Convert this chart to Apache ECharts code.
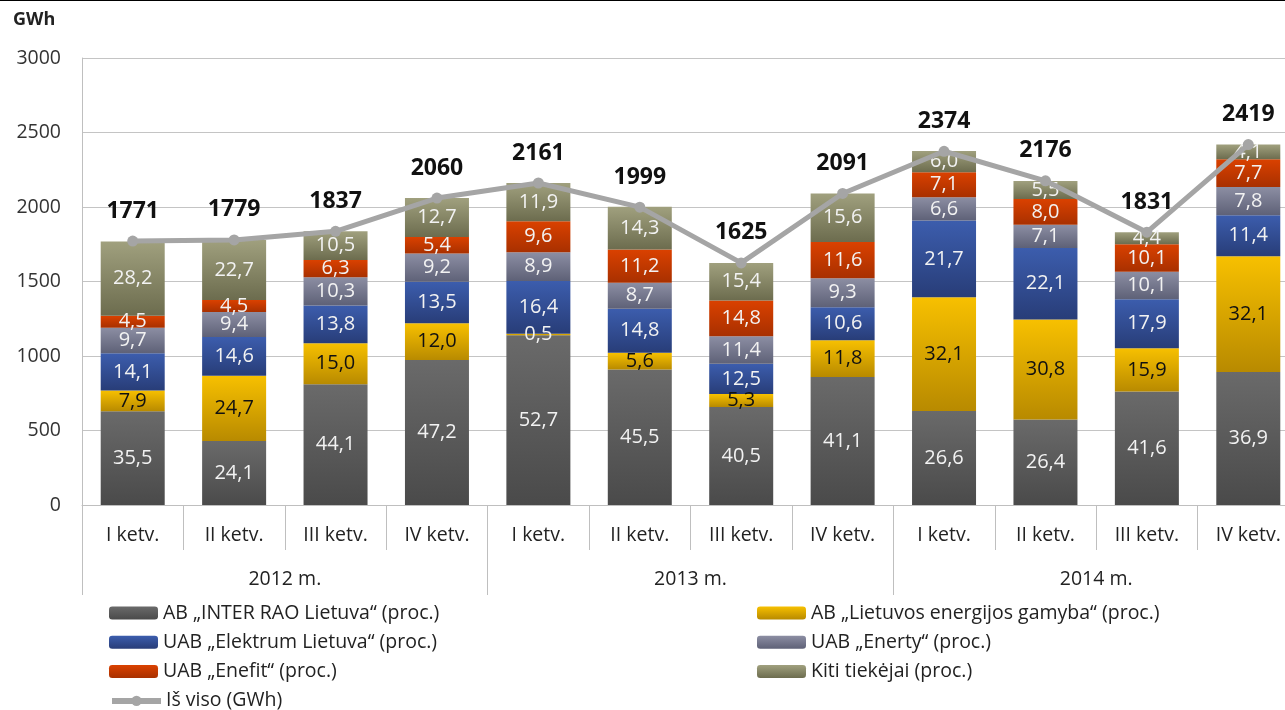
<!DOCTYPE html>
<html>
<head>
  <meta charset="utf-8">
  <title>Elektros tiekimas</title>
  <style>
    html, body { margin: 0; padding: 0; background: #fff; }
    #main { width: 1285px; height: 710px; }
  </style>
</head>
<body>
  <div id="main"></div>
  <script src="https://cdn.jsdelivr.net/npm/echarts@6/dist/echarts.min.js"></script>
  <script>
    // ketvirčiai ir metai
    const quarters = ['I ketv.', 'II ketv.', 'III ketv.', 'IV ketv.', 'I ketv.', 'II ketv.', 'III ketv.', 'IV ketv.', 'I ketv.', 'II ketv.', 'III ketv.', 'IV ketv.'];
    const years = ['2012 m.', '2013 m.', '2014 m.'];
    const yTicks = [0, 500, 1000, 1500, 2000, 2500, 3000];

    // iš viso, GWh
    const totals = [1771, 1779, 1837, 2060, 2161, 1999, 1625, 2091, 2374, 2176, 1831, 2419];

    // tiekėjų dalys, proc.
    const interRao = [35.5, 24.1, 44.1, 47.2, 52.7, 45.5, 40.5, 41.1, 26.6, 26.4, 41.6, 36.9];
    const leg = [7.9, 24.7, 15.0, 12.0, 0.5, 5.6, 5.3, 11.8, 32.1, 30.8, 15.9, 32.1];
    const elektrum = [14.1, 14.6, 13.8, 13.5, 16.4, 14.8, 12.5, 10.6, 21.7, 22.1, 17.9, 11.4];
    const enerty = [9.7, 9.4, 10.3, 9.2, 8.9, 8.7, 11.4, 9.3, 6.6, 7.1, 10.1, 7.8];
    const enefit = [4.5, 4.5, 6.3, 5.4, 9.6, 11.2, 14.8, 11.6, 7.1, 8.0, 10.1, 7.7];
    const kiti = [28.2, 22.7, 10.5, 12.7, 11.9, 14.3, 15.4, 15.6, 6.0, 5.5, 4.4, 4.1];

    const names = [
      'AB „INTER RAO Lietuva“ (proc.)',
      'AB „Lietuvos energijos gamyba“ (proc.)',
      'UAB „Elektrum Lietuva“ (proc.)',
      'UAB „Enerty“ (proc.)',
      'UAB „Enefit“ (proc.)',
      'Kiti tiekėjai (proc.)'
    ];
    const lineName = 'Iš viso (GWh)';

    const font = '"Open Sans", sans-serif';

    function grad(top, bottom) {
      return new echarts.graphic.LinearGradient(0, 0, 0, 1, [
        { offset: 0, color: top },
        { offset: 1, color: bottom }
      ]);
    }

    const shares = [interRao, leg, elektrum, enerty, enefit, kiti];
    const colors = [
      ['#6a6a6a', '#4a4a4a'],
      ['#f7c000', '#b88a00'],
      ['#3c5dad', '#283d78'],
      ['#8c8ea3', '#5e6177'],
      ['#da4100', '#a83000'],
      ['#a0a07e', '#6c6c4e']
    ];

    const barSeries = shares.map(function (arr, k) {
      return {
        name: names[k],
        type: 'bar',
        stack: 'viso',
        barWidth: 64,
        itemStyle: { color: grad(colors[k][0], colors[k][1]) },
        label: {
          show: true,
          position: 'inside',
          fontFamily: font,
          fontSize: 20,
          color: k === 1 ? '#111' : '#f2f2f2',
          formatter: function (p) { return p.data.pct.toFixed(1).replace('.', ','); }
        },
        data: arr.map(function (v, i) {
          const item = { value: totals[i] * v / 100, pct: v };
          if (k === 1 && v < 1) item.label = { color: '#f2f2f2' };
          return item;
        })
      };
    });

    // legendos eilutės: [kairė, dešinė]
    const legendRows = [
      [names[0], names[1]],
      [names[2], names[3]],
      [names[4], names[5]],
      [lineName]
    ];
    const legends = [];
    legendRows.forEach(function (row, r) {
      row.forEach(function (n, c) {
        legends.push({
          left: c === 0 ? 104 : 752,
          top: 598 + r * 29.3,
          itemWidth: 49, itemHeight: 13, itemGap: 0,
          lineStyle: { width: 6 },
          textStyle: { fontFamily: font, fontSize: 19.5, color: '#222' },
          data: [n]
        });
      });
    });

    const option = {
      animation: false,
      textStyle: { fontFamily: font },
      graphic: [{
        type: 'rect', left: 0, top: 0,
        shape: { width: 1285, height: 1 },
        style: { fill: '#000' }
      }],
      title: {
        text: 'GWh', left: 8, top: 6,
        textStyle: { fontFamily: font, fontSize: 18, fontWeight: 'bold', color: '#222' }
      },
      legend: legends,
      grid: { left: 82, width: 1217, top: 58, bottom: 205, containLabel: false, outerBoundsMode: 'none' },
      xAxis: [{
        type: 'category',
        data: quarters,
        position: 'bottom',
        axisLine: { show: true, lineStyle: { color: '#bfbfbf' } },
        axisTick: { show: true, interval: 0, length: 45, lineStyle: { color: '#bfbfbf' } },
        axisLabel: { margin: 20, fontSize: 19.5, color: '#222', fontFamily: font }
      }, {
        type: 'category',
        data: years,
        position: 'bottom',
        axisLine: { show: false },
        axisTick: { show: true, interval: 0, length: 90, lineStyle: { color: '#bfbfbf' } },
        axisLabel: { margin: 64, fontSize: 19.5, color: '#222', fontFamily: font }
      }],
      yAxis: {
        type: 'value',
        min: yTicks[0],
        max: yTicks[yTicks.length - 1],
        interval: 500,
        axisLine: { show: true, lineStyle: { color: '#bfbfbf' } },
        axisTick: { show: false },
        axisLabel: {
          margin: 21, fontSize: 19.5, color: '#333', fontFamily: font,
          formatter: function (v) { return String(v); }
        },
        splitLine: { lineStyle: { color: '#c4c4c4' } }
      },
      series: barSeries.concat([{
        name: lineName,
        type: 'line',
        data: totals,
        symbol: 'circle',
        symbolSize: 11,
        z: 5,
        lineStyle: { color: '#a5a5a5', width: 5 },
        itemStyle: { color: '#a5a5a5' },
        label: {
          show: true,
          position: 'top',
          distance: 13,
          fontFamily: font,
          fontSize: 23,
          fontWeight: 'bold',
          color: '#111'
        }
      }])
    };

    const chart = echarts.init(document.getElementById('main'));
    chart.setOption(option);
  </script>
</body>
</html>
